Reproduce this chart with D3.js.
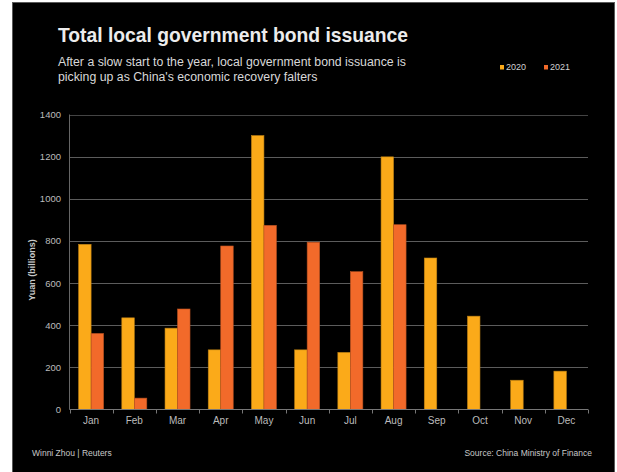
<!DOCTYPE html>
<html>
<head>
<meta charset="utf-8">
<script src="https://cdn.jsdelivr.net/npm/d3@7"></script>
<style>
  body { margin: 0; background: #fff; }
  text { font-family: "Liberation Sans", Arial, sans-serif; }
</style>
</head>
<body>
<svg id="chart" width="617" height="472"></svg>
<script>
// data
var months = ["Jan", "Feb", "Mar", "Apr", "May", "Jun", "Jul", "Aug", "Sep", "Oct", "Nov", "Dec"];
var series = ["2020", "2021"];
var values2020 = [784, 435, 386, 283, 1300, 283, 271, 1199, 719, 443, 139, 182];
var values2021 = [361, 54, 477, 776, 874, 794, 654, 877, null, null, null, null];
var yTicks = [0, 200, 400, 600, 800, 1000, 1200, 1400];
var colors = ["#fbaa19", "#f26a2a"];

var svg = d3.select("#chart");

// black panel with grey frame
svg.append("rect")
  .attr("x", 12.5).attr("y", 2.5)
  .attr("width", 602).attr("height", 472)
  .attr("fill", "#000")
  .attr("stroke", "#5a5a5a");

var margin = {left: 69.5, right: 588, top: 114.5, bottom: 409.5};

var x = d3.scaleBand().domain(months).range([margin.left, margin.right]);
var x1 = d3.scaleBand().domain(series).range([0, 25]);
var y = d3.scaleLinear().domain([0, 1400]).range([margin.bottom, margin.top]);

// gridlines
svg.append("g").selectAll("line")
  .data(yTicks.slice(1))
  .join("line")
  .attr("x1", margin.left).attr("x2", margin.right)
  .attr("y1", function(d) { return Math.round(y(d)) + 0.5; })
  .attr("y2", function(d) { return Math.round(y(d)) + 0.5; })
  .attr("stroke", function(d) { return d === 1400 ? "#444" : "#5c5c5c"; })
  .attr("stroke-width", 1);

// y axis labels
svg.append("g").selectAll("text")
  .data(yTicks)
  .join("text")
  .attr("x", 61)
  .attr("y", function(d) { return y(d) + 3.5; })
  .attr("text-anchor", "end")
  .attr("fill", "#bcbcbc")
  .attr("font-size", 9.5)
  .text(function(d) { return d; });

// y axis line
svg.append("line")
  .attr("x1", margin.left).attr("x2", margin.left)
  .attr("y1", margin.top).attr("y2", margin.bottom)
  .attr("stroke", "#666");

// bars
var rows = months.map(function(m, i) {
  return {month: m, vals: [values2020[i], values2021[i]]};
});
var groups = svg.append("g").selectAll("g")
  .data(rows)
  .join("g")
  .attr("transform", function(d) {
    return "translate(" + (x(d.month) + (x.bandwidth() - 25) / 2) + ",0)";
  });
groups.selectAll("rect")
  .data(function(d) {
    return d.vals.map(function(v, j) { return {s: series[j], v: v, c: colors[j]}; })
      .filter(function(e) { return e.v != null; });
  })
  .join("rect")
  .attr("x", function(d) { return x1(d.s); })
  .attr("y", function(d) { return y(d.v); })
  .attr("width", x1.bandwidth())
  .attr("height", function(d) { return y(0) - y(d.v); })
  .attr("fill", function(d) { return d.c; })
  .attr("stroke", function(d) { return d3.color(d.c).darker(0.8); })
  .attr("stroke-width", 0.6);

// x axis
var xAxis = svg.append("g")
  .attr("transform", "translate(0," + margin.bottom + ")");
xAxis.append("line")
  .attr("x1", margin.left).attr("x2", margin.right)
  .attr("stroke", "#777");
xAxis.selectAll("line.tick")
  .data(months.concat(["end"]))
  .join("line")
  .attr("class", "tick")
  .attr("x1", function(d, i) { return Math.round(margin.left + i * x.step()) + 0.5; })
  .attr("x2", function(d, i) { return Math.round(margin.left + i * x.step()) + 0.5; })
  .attr("y1", 0).attr("y2", 4)
  .attr("stroke", "#777");
xAxis.selectAll("text")
  .data(months)
  .join("text")
  .attr("x", function(d) { return x(d) + x.bandwidth() / 2; })
  .attr("y", 14.5)
  .attr("text-anchor", "middle")
  .attr("fill", "#bcbcbc")
  .attr("font-size", 10)
  .text(function(d) { return d; });

// axis title
svg.append("text")
  .attr("transform", "translate(35,270) rotate(-90)")
  .attr("text-anchor", "middle")
  .attr("fill", "#c8c8c8")
  .attr("font-size", 9)
  .attr("font-weight", "bold")
  .text("Yuan (billions)");

// title and subtitle
svg.append("text")
  .attr("x", 58).attr("y", 41.5)
  .attr("fill", "#ececec")
  .attr("font-size", 19.3)
  .attr("font-weight", "bold")
  .text("Total local government bond issuance");
svg.append("text")
  .attr("x", 58).attr("y", 65.5)
  .attr("fill", "#d8d8d8")
  .attr("font-size", 12.3)
  .text("After a slow start to the year, local government bond issuance is");
svg.append("text")
  .attr("x", 58).attr("y", 80.5)
  .attr("fill", "#d8d8d8")
  .attr("font-size", 12.3)
  .text("picking up as China's economic recovery falters");

// legend
var legend = svg.append("g").selectAll("g")
  .data(series)
  .join("g")
  .attr("transform", function(d, i) { return "translate(" + (500 + i * 44) + ",65)"; });
legend.append("rect")
  .attr("width", 4).attr("height", 4.5)
  .attr("fill", function(d, i) { return colors[i]; });
legend.append("text")
  .attr("x", 6).attr("y", 5)
  .attr("fill", "#d0d0d0")
  .attr("font-size", 9)
  .text(function(d) { return d; });

// footer
svg.append("text")
  .attr("x", 32).attr("y", 456)
  .attr("fill", "#c8c8c8")
  .attr("font-size", 8.5)
  .text("Winni Zhou  | Reuters");
svg.append("text")
  .attr("x", 592).attr("y", 456)
  .attr("text-anchor", "end")
  .attr("fill", "#c8c8c8")
  .attr("font-size", 8.5)
  .text("Source: China Ministry of Finance");
</script>
</body>
</html>
